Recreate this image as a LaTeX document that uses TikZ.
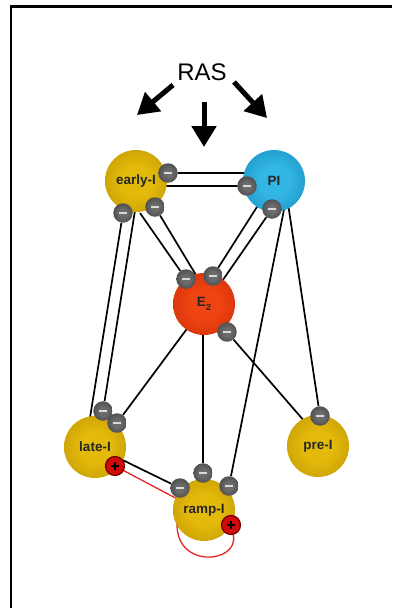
\documentclass[tikz,border=0pt]{standalone}
\usepackage{fontspec}
\setmainfont{Liberation Sans}
\usetikzlibrary{arrows.meta}
\definecolor{yelIn}{RGB}{228,186,10}
\definecolor{yelOut}{RGB}{168,128,0}
\definecolor{bluIn}{RGB}{50,182,230}
\definecolor{bluOut}{RGB}{8,120,165}
\definecolor{redIn}{RGB}{240,68,18}
\definecolor{redOut}{RGB}{180,30,0}
\definecolor{gryIn}{RGB}{108,108,108}
\definecolor{gryOut}{RGB}{36,36,36}
\definecolor{excRed}{RGB}{210,10,10}
\definecolor{excDark}{RGB}{115,0,0}
\definecolor{loopRed}{RGB}{228,38,38}
\pgfdeclareradialshading{yelsph}{\pgfpoint{0bp}{0bp}}{color(0bp)=(yelIn); color(12bp)=(yelIn); color(50bp)=(yelOut)}
\pgfdeclareradialshading{blusph}{\pgfpoint{0bp}{0bp}}{color(0bp)=(bluIn); color(12bp)=(bluIn); color(50bp)=(bluOut)}
\pgfdeclareradialshading{redsph}{\pgfpoint{0bp}{0bp}}{color(0bp)=(redIn); color(12bp)=(redIn); color(50bp)=(redOut)}
\pgfdeclareradialshading{grysph}{\pgfpoint{0bp}{0bp}}{color(0bp)=(gryIn); color(10bp)=(gryIn); color(50bp)=(gryOut)}
\pgfdeclarelayer{bg}
\pgfsetlayers{bg,main}
\begin{document}
\begin{tikzpicture}[x=1pt,y=-1pt,
  body/.style={circle, minimum size=62pt, inner sep=0pt, shade,
    font=\fontsize{13.5}{14}\selectfont\bfseries, text=black!85},
  yel/.style={body, shading=yelsph},
  blu/.style={body, shading=blusph},
  rd/.style={body, shading=redsph},
  inh/.style={circle, minimum size=19.5pt, inner sep=0pt, shade, shading=grysph,
    path picture={\fill[white!70!gray] ([xshift=-4pt,yshift=-1.3pt]path picture bounding box.center) rectangle ([xshift=4pt,yshift=1.3pt]path picture bounding box.center);}},
  exc/.style={circle, minimum size=19pt, inner sep=0pt, fill=excRed, draw=excDark, line width=1.2pt,
    path picture={\draw[black, line width=1.8pt] ([xshift=-4pt]path picture bounding box.center) -- ([xshift=4pt]path picture bounding box.center) ([yshift=-4pt]path picture bounding box.center) -- ([yshift=4pt]path picture bounding box.center);}},
  link/.style={line width=1.7pt, black},
  rlink/.style={line width=1.3pt, loopRed},
  rasarrow/.style={line width=5pt, -{Triangle[length=21pt,width=24pt]}}
]
\useasboundingbox (0,0) rectangle (392,608);
% frame
\draw[line width=2.2pt] (11,608) -- (11,6.5) -- (392,6.5);

% RAS and arrows
\node[inner sep=0pt, font=\fontsize{24}{24}\selectfont] (RAS) at (202,72) {RAS};
\coordinate (aL0) at (173,85);  \coordinate (aL1) at (137,115);
\coordinate (aM0) at (204,102); \coordinate (aM1) at (204,147);
\coordinate (aR0) at (234,82);  \coordinate (aR1) at (267,118);
\draw[rasarrow] (aL0) -- (aL1);
\draw[rasarrow] (aM0) -- (aM1);
\draw[rasarrow] (aR0) -- (aR1);

% bodies
\node[yel] (early) at (136,181) {early-I};
\node[blu] (PI) at (274,181) {PI};
\node[rd] (E2) at (204,304) {E\raisebox{-3.5pt}{\fontsize{9}{9}\selectfont 2}};
\node[yel] (late) at (95,447) {late-I};
\node[yel] (pre) at (318,446) {pre-I};
\node[yel] (ramp) at (204,510) {ramp-I};

% inhibitory synapses
\node[inh] (b1) at (168,173) {};
\node[inh] (b2) at (247,186) {};
\node[inh] (b3) at (123,213) {};
\node[inh] (b4) at (155,207) {};
\node[inh] (b5) at (272,209) {};
\node[inh] (b6) at (186,279) {};
\node[inh] (b7) at (213,276) {};
\node[inh] (b8) at (227,332) {};
\node[inh] (b9) at (103,411) {};
\node[inh] (b10) at (117,423) {};
\node[inh] (b11) at (320,416) {};
\node[inh] (b12) at (203,473) {};
\node[inh] (b13) at (180,488) {};
\node[inh] (b14) at (229,486) {};
% excitatory synapses
\node[exc] (p1) at (115,466) {};
\node[exc] (p2) at (231,525) {};

% hidden line ends inside bodies
\coordinate (c3) at (88,430);
\coordinate (c4) at (137,198);
\coordinate (c5) at (140,213);
\coordinate (c6) at (205,290);
\coordinate (c7) at (262,199);
\coordinate (c8) at (218,287);
\coordinate (c9) at (192,322);
\coordinate (c10) at (312,430);
\coordinate (c11) at (287,197);
\coordinate (c12) at (286.5,197);
\coordinate (c14) at (100,449);
\coordinate (c15) at (185,503);
\coordinate (c16) at (178,515);

\begin{pgfonlayer}{bg}
\draw[link] (b1) -- (b1 -| PI);
\draw[link] (b2) -- (b2 -| early);
\draw[link] (b3) -- (c3);
\draw[link] (c4) -- (b9);
\draw[link] (c5) -- (b6);
\draw[link] (c6) -- (b4);
\draw[link] (c7) -- (b7);
\draw[link] (c8) -- (b5);
\draw[link] (c9) -- (b10);
\draw[link] (c10) -- (b8);
\draw[link] (c11) -- (b11);
\draw[link] (c12) -- (b14);
\draw[link] (b12) -- (b12 |- E2);
\draw[link] (c14) -- (b13);
\draw[rlink] (c15) -- (p1);
\draw[rlink] (p2) .. controls (240,565) and (168,570) .. (c16);
\end{pgfonlayer}
\end{tikzpicture}
\end{document}
